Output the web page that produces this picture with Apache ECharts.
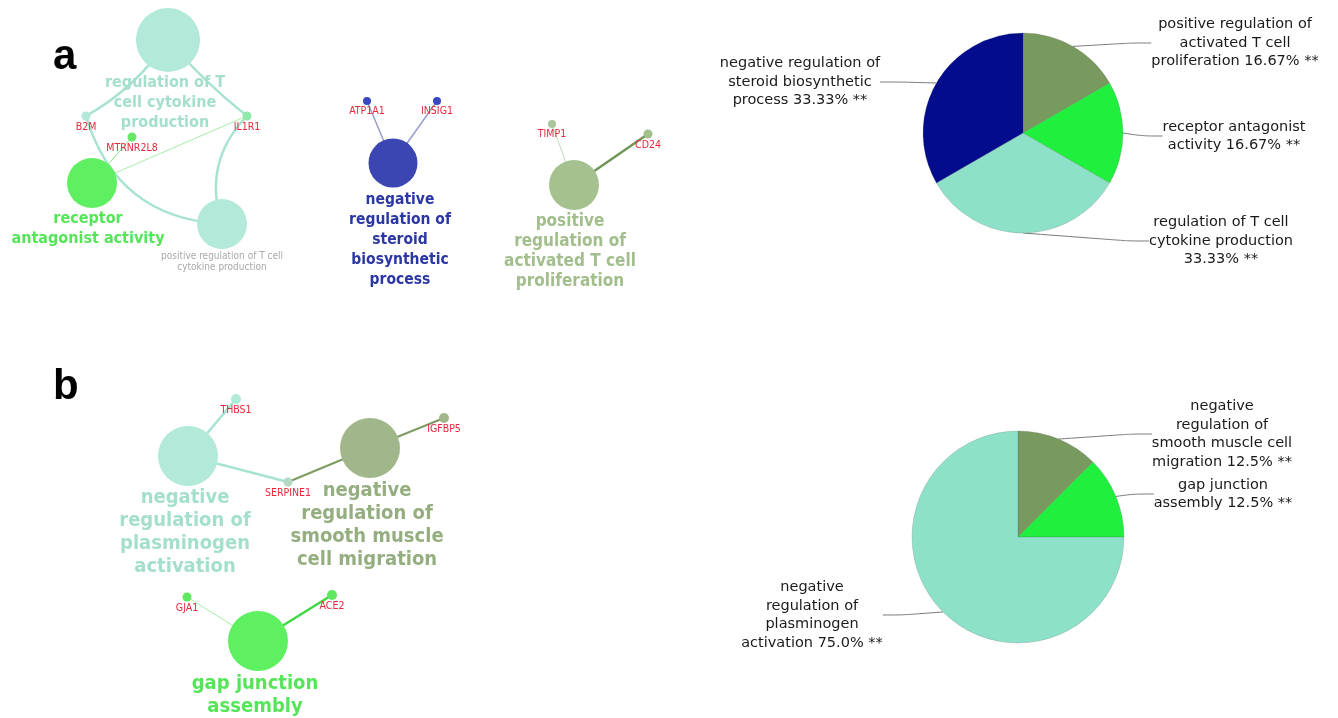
<!DOCTYPE html>
<html>
<head>
<meta charset="utf-8">
<script src="https://cdn.jsdelivr.net/npm/echarts@6/dist/echarts.min.js"></script>
<style>
html,body{margin:0;padding:0;background:#fff;}
#chart{width:1338px;height:718px;}
</style>
</head>
<body>
<div id="chart"></div>
<script>
// ---------------- DATA ----------------
// Panel a: pie (share of genes per GO term)
const pieACategories = [
  'positive regulation of\nactivated T cell\nproliferation',
  'receptor antagonist\nactivity',
  'regulation of T cell\ncytokine production\n',
  'negative regulation of\nsteroid biosynthetic\nprocess'
];
const pieAValues = [16.67, 16.67, 33.33, 33.33];
// Panel b: pie
const pieBCategories = [
  'negative\nregulation of\nsmooth muscle cell\nmigration',
  'gap junction\nassembly',
  'negative\nregulation of\nplasminogen\nactivation'
];
const pieBValues = [12.5, 12.5, 75.0];

// Panel a network: node names
const netANodes = [
  'regulation of T\ncell cytokine\nproduction',
  'positive regulation of T cell\ncytokine production',
  'receptor\nantagonist activity',
  'negative\nregulation of\nsteroid\nbiosynthetic\nprocess',
  'positive\nregulation of\nactivated T cell\nproliferation',
  'B2M', 'IL1R1', 'MTRNR2L8', 'ATP1A1', 'INSIG1', 'TIMP1', 'CD24'
];
const netALinks = [[0,5],[5,1],[0,6],[6,1],[2,7],[2,6],[3,8],[3,9],[4,10],[4,11]];

// Panel b network
const netBNodes = [
  'negative\nregulation of\nplasminogen\nactivation',
  'negative\nregulation of\nsmooth muscle\ncell migration',
  'gap junction\nassembly',
  'THBS1', 'SERPINE1', 'IGFBP5', 'GJA1', 'ACE2'
];
const netBLinks = [[0,3],[0,4],[4,1],[1,5],[2,6],[2,7]];

// ---------------- LAYOUT / STYLE ----------------
const netALayout = [[168,40],[222,224],[92,183],[393,163],[574,185],[86,116],[247,116],[132,137],[367,101],[437,101],[552,124],[648,134]];
const netBLayout = [[188,456],[370,448],[258,641],[236,399],[288,482],[444,418],[187,597],[332,595]];

const COL = {
  tealNode:'#b2e9d9', tealText:'#a4dfcd', tealEdge:'#a8e2d2',
  greenNode:'#5ef061', greenText:'#55e558',
  navyNode:'#3b46b2', navyText:'#2a37a4',
  oliveNode:'#a5c18f', oliveText:'#a2be8c',
  smoothNode:'#a1b78b', smoothText:'#95ae80',
  gene:'#e5283c',
  pieTeal:'#8ee1c9', pieGreen:'#1ff03d', pieOlive:'#799a5e', pieNavy:'#020c8c'
};
const FONT = "'DejaVu Sans Condensed','DejaVu Sans',sans-serif";
const PIEFONT = "'DejaVu Sans',sans-serif";

function geneLabel(){
  return {show:true, position:'bottom', distance:1, color:COL.gene, fontSize:10.5, fontFamily:FONT};
}
function termLabel(color, size, lh, dist, off){
  return {show:true, position:'bottom', distance:dist, color:color, fontSize:size, lineHeight:lh,
          fontWeight:'bold', fontFamily:FONT, align:'center', offset:off||[0,0]};
}
const netAStyle = [
  {size:64, color:COL.tealNode, label:termLabel(COL.tealText,16,20,1,[-3,0])},
  {size:50, color:COL.tealNode, label:{show:true,position:'bottom',distance:2,color:'#a9a9a9',fontSize:10,lineHeight:11,fontFamily:FONT,align:'center'}},
  {size:50, color:COL.greenNode, label:termLabel(COL.greenText,16,20,1,[-4,0])},
  {size:49, color:COL.navyNode, label:termLabel(COL.navyText,15.5,20,2,[7,0])},
  {size:50, color:COL.oliveNode, label:termLabel(COL.oliveText,17,20,2,[-4,0])},
  {size:9, color:'#b2e9d9', label:geneLabel()},
  {size:9, color:'#8fe9a8', label:geneLabel()},
  {size:9, color:'#66e866', label:geneLabel()},
  {size:8, color:'#3a48c0', label:geneLabel()},
  {size:8, color:'#3a48c0', label:geneLabel()},
  {size:8, color:'#a9c59a', label:geneLabel()},
  {size:9, color:'#a2bf8e', label:geneLabel()}
];
const netALinkStyle = [
  {w:2.5, c:COL.tealEdge, cv:0.12},
  {w:2.5, c:COL.tealEdge, cv:-0.35},
  {w:2.5, c:COL.tealEdge, cv:-0.05},
  {w:2.5, c:COL.tealEdge, cv:-0.3},
  {w:1, c:'#8ee88e', cv:0},
  {w:1, c:'#a8eca8', cv:0},
  {w:1.5, c:'#9a9ccc', cv:0},
  {w:1.5, c:'#9a9ccc', cv:0},
  {w:1, c:'#c3d8b8', cv:0},
  {w:2.5, c:'#6f9758', cv:0}
];
const netBStyle = [
  {size:60, color:COL.tealNode, label:termLabel(COL.tealText,20,23,0,[-3,0])},
  {size:60, color:COL.smoothNode, label:termLabel(COL.smoothText,20,23,1,[-3,0])},
  {size:60, color:COL.greenNode, label:termLabel(COL.greenText,20,23,1,[-3,0])},
  {size:10, color:'#b2e9d9', label:geneLabel()},
  {size:9, color:'#b2d9c4', label:geneLabel()},
  {size:10, color:'#a1b78b', label:geneLabel()},
  {size:9, color:'#5ee860', label:geneLabel()},
  {size:10, color:'#5ee860', label:geneLabel()}
];
const netBLinkStyle = [
  {w:2.5, c:COL.tealEdge, cv:0},
  {w:2.5, c:COL.tealEdge, cv:0},
  {w:2, c:'#7c9c62', cv:0},
  {w:2, c:'#7c9c62', cv:0},
  {w:1, c:'#a8eca8', cv:0},
  {w:2.5, c:'#3fd843', cv:0}
];

function buildNodes(names, layout, styles){
  return names.map((n,i)=>({
    name:n, value:layout[i], symbolSize:styles[i].size,
    itemStyle:{color:styles[i].color}, label:styles[i].label
  }));
}
function buildLinks(links, styles){
  return links.map((l,i)=>({source:l[0], target:l[1],
    lineStyle:{width:styles[i].w, color:styles[i].c, curveness:styles[i].cv, opacity:1}}));
}

// label anchor positions for pies (layout only)
const pieALabelPos = [[1235,43],[1234,136],[1221,241],[800,82]];
const pieBLabelPos = [[1222,434],[1223,494],[812,615]];

function pieSeries(cats, vals, colors, center, radius, pos, dec){
  return {
    type:'pie', center:center, radius:radius, startAngle:90, clockwise:true,
    animation:false, silent:true,
    data: cats.map((c,i)=>({name:c, value:vals[i], itemStyle:{color:colors[i]}})),
    itemStyle:{borderColor:'rgba(90,90,90,0.35)', borderWidth:0.6},
    label:{show:true, color:'#1a1a1a', fontSize:14.5, lineHeight:18.5, fontFamily:PIEFONT, align:'center',
      formatter:(p)=>{
        const base = p.name.replace(/\n$/, '');
        const pct = p.value.toFixed(dec) + '% **';
        return p.name.endsWith('\n') ? base + '\n' + pct : base + ' ' + pct;
      }},
    labelLine:{show:true, smooth:0.3, length:15, length2:20, lineStyle:{color:'#7a7a7a', width:1}},
    labelLayout:(params)=>{
      const p = pos[params.dataIndex];
      return {x:p[0], y:p[1], align:'center', verticalAlign:'middle'};
    }
  };
}

const chart = echarts.init(document.getElementById('chart'), null, {renderer:'canvas'});
chart.setOption({
  animation:false,
  backgroundColor:'#ffffff',
  title:[
    {text:'a', left:48, top:31, textStyle:{fontSize:42, fontWeight:'bold', color:'#000', fontFamily:"'Liberation Sans',Arial,sans-serif"}},
    {text:'b', left:48, top:361, textStyle:{fontSize:42, fontWeight:'bold', color:'#000', fontFamily:"'Liberation Sans',Arial,sans-serif"}}
  ],
  grid:{left:0, right:0, top:0, bottom:0},
  xAxis:{type:'value', min:0, max:1338, show:false},
  yAxis:{type:'value', min:0, max:718, inverse:true, show:false},
  series:[
    {type:'graph', coordinateSystem:'cartesian2d', layout:'none', animation:false, silent:true,
     data:buildNodes(netANodes, netALayout, netAStyle),
     links:buildLinks(netALinks, netALinkStyle), z:2},
    {type:'graph', coordinateSystem:'cartesian2d', layout:'none', animation:false, silent:true,
     data:buildNodes(netBNodes, netBLayout, netBStyle),
     links:buildLinks(netBLinks, netBLinkStyle), z:2},
    pieSeries(pieACategories, pieAValues, [COL.pieOlive, COL.pieGreen, COL.pieTeal, COL.pieNavy], [1023,133], 100, pieALabelPos, 2),
    pieSeries(pieBCategories, pieBValues, [COL.pieOlive, COL.pieGreen, COL.pieTeal], [1018,537], 106, pieBLabelPos, 1)
  ]
});
</script>
</body>
</html>
